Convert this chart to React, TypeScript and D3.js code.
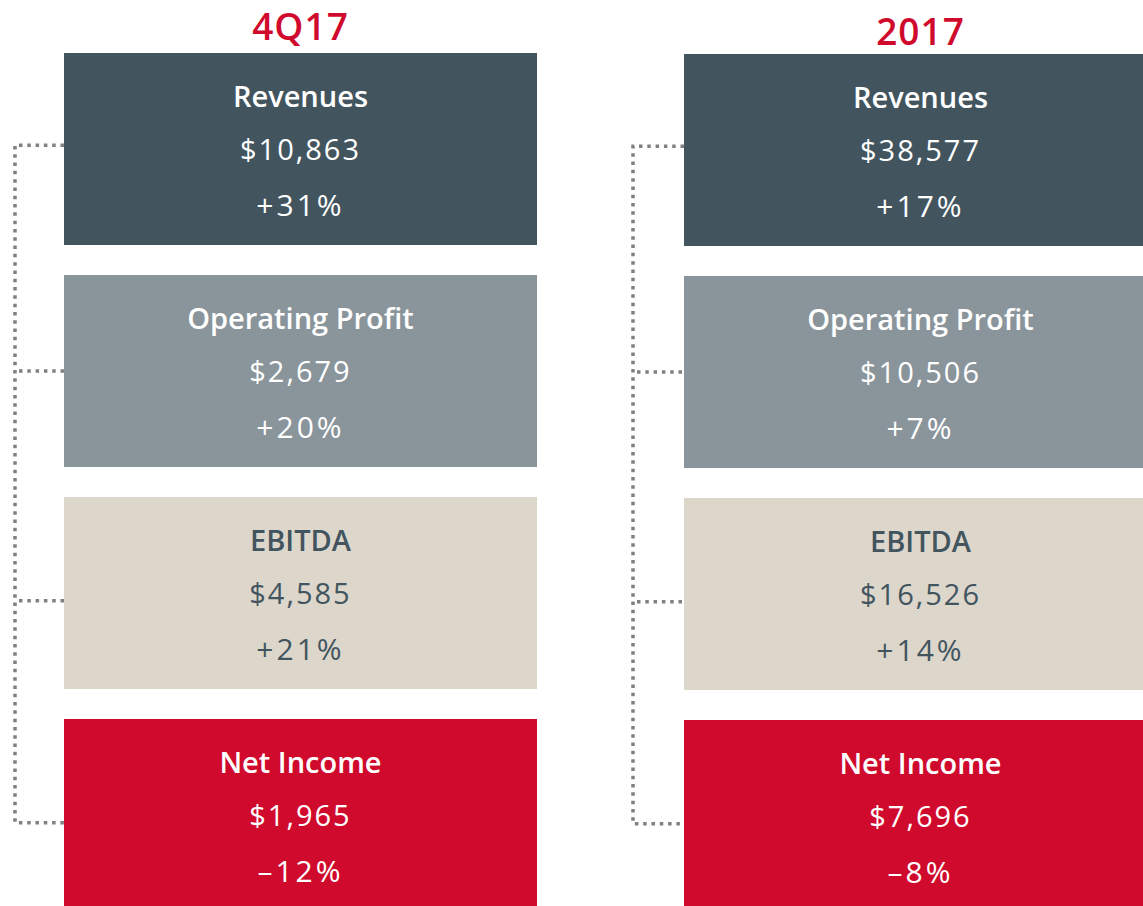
import React from "react";
import * as d3 from "d3";

const periods = ["4Q17", "2017"];
const categories = ["Revenues", "Operating Profit", "EBITDA", "Net Income"];
const values4Q17 = ["$10,863", "$2,679", "$4,585", "$1,965"];
const growth4Q17 = ["+31%", "+20%", "+21%", "–12%"];
const values2017 = ["$38,577", "$10,506", "$16,526", "$7,696"];
const growth2017 = ["+17%", "+7%", "+14%", "–8%"];
const boxColors = ["#42555F", "#8A959B", "#DDD6CB", "#D00A2D"];
const textColors = ["#FFFFFF", "#FFFFFF", "#42555F", "#FFFFFF"];

const W = 1143;
const H = 906;
const FONT = "'Open Sans', 'Noto Sans', sans-serif";

export default function App() {
  const x = d3.scaleBand<string>().domain(periods).range([64, 64 + 620 * 2]).paddingInner(0);
  const boxW = 473;
  const y = d3
    .scaleBand<string>()
    .domain(categories)
    .range([53, 53 + 4 * 222 - 30])
    .paddingInner(30 / 222)
    .paddingOuter(0);
  const bh = y.bandwidth();
  const cols = [
    { period: periods[0], values: values4Q17, growth: growth4Q17, lineX: 15, dy: 0, titleY: 40 },
    { period: periods[1], values: values2017, growth: growth2017, lineX: 633, dy: 1, titleY: 45 },
  ];
  const connY = [0.48, 0.5, 0.54, 0.54];
  const dotStyle = { stroke: "#808080", strokeWidth: 3.5, strokeDasharray: "3.5 4.8" };

  return (
    <svg
      width={W}
      height={H}
      style={{ position: "fixed", left: 0, top: 0, background: "#fff" }}
      fontFamily={FONT}
    >
      {cols.map((c) => {
        const x0 = x(c.period)!;
        const cx = x0 + boxW / 2;
        const ys = categories.map((k, i) => y(k)! + c.dy + bh * connY[i]);
        return (
          <g key={c.period}>
            <text
              x={cx}
              y={c.titleY}
              textAnchor="middle"
              fill="#D00A2D"
              fontSize={37}
              fontWeight={600}
              letterSpacing={1}
            >
              {c.period}
            </text>
            <path
              d={`M${x0},${ys[0]}H${c.lineX}V${ys[3]}H${x0}`}
              fill="none"
              {...dotStyle}
            />
            {categories.slice(1, 3).map((k, i) => (
              <line
                key={k}
                x1={c.lineX + 4}
                x2={x0}
                y1={ys[i + 1]}
                y2={ys[i + 1]}
                {...dotStyle}
              />
            ))}
            {categories.map((k, i) => {
              const y0 = y(k)! + c.dy;
              return (
                <g key={k}>
                  <rect x={x0} y={y0} width={boxW} height={bh} fill={boxColors[i]} />
                  <text
                    x={cx}
                    y={y0 + 54}
                    textAnchor="middle"
                    fill={textColors[i]}
                    fontSize={29}
                    fontWeight={600}
                  >
                    {k}
                  </text>
                  <text
                    x={cx}
                    y={y0 + 107}
                    textAnchor="middle"
                    fill={textColors[i]}
                    fontSize={29}
                    fontWeight={400}
                    letterSpacing={2}
                  >
                    {c.values[i]}
                  </text>
                  <text
                    x={cx}
                    y={y0 + 163}
                    textAnchor="middle"
                    fill={textColors[i]}
                    fontSize={30}
                    fontWeight={400}
                    letterSpacing={3}
                  >
                    {c.growth[i]}
                  </text>
                </g>
              );
            })}
          </g>
        );
      })}
    </svg>
  );
}
